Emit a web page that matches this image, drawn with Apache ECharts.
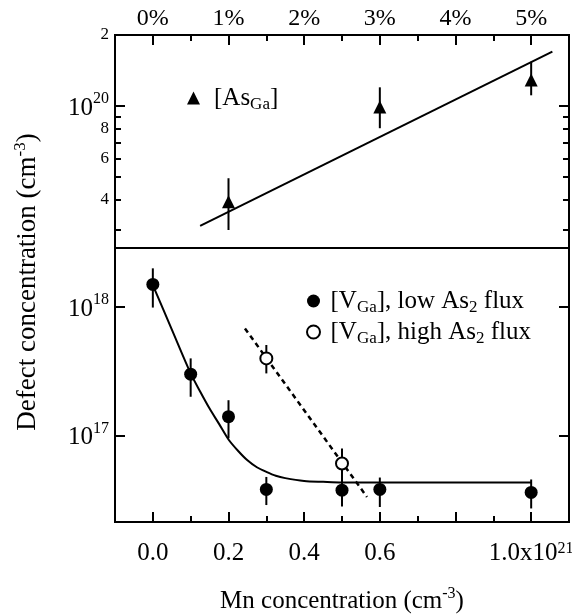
<!DOCTYPE html>
<html>
<head>
<meta charset="utf-8">
<script src="https://cdn.jsdelivr.net/npm/echarts@6/dist/echarts.min.js"></script>
<style>
html,body{margin:0;padding:0;background:#fff;}
#chart{width:572px;height:614px;}
</style>
</head>
<body>
<div id="chart"></div>
<script>
// ---------- data (x in units of 1e21 cm^-3) ----------
// Top panel: [As_Ga]
const asX = [0.2, 0.6, 1.0];
const asVal = [3.93e19, 9.9e19, 1.29e20];
const asLo = [2.98e19, 8.05e19, 1.11e20];
const asHi = [4.94e19, 1.2e20, 1.54e20];
const asFitX = [0.125, 1.056];
const asFitY = [3.1e19, 1.7e20];

// Bottom panel: [V_Ga], low As2 flux
const lowX = [0.0, 0.1, 0.2, 0.3, 0.5, 0.6, 1.0];
const lowVal = [1.5e18, 3.0e17, 1.4e17, 3.8e16, 3.75e16, 3.8e16, 3.6e16];
const lowLo = [9.9e17, 2.0e17, 9.5e16, 2.87e16, 2.8e16, 2.77e16, 2.7e16];
const lowHi = [2.0e18, 3.98e17, 1.88e17, 4.75e16, 4.7e16, 4.7e16, 4.54e16];
const lowFitX = [0.0, 0.05, 0.1, 0.125, 0.15, 0.175, 0.2, 0.225, 0.25, 0.275, 0.3, 0.325, 0.35, 0.4, 0.45, 0.5, 0.6, 1.0];
const lowFitY = [1.48e18, 6.7e17, 3.04e17, 2.2e17, 1.62e17, 1.23e17, 9.3e16, 7.6e16, 6.4e16, 5.65e16, 5.2e16, 4.85e16, 4.65e16, 4.42e16, 4.35e16, 4.3e16, 4.3e16, 4.3e16];

// Bottom panel: [V_Ga], high As2 flux
const highX = [0.3, 0.5];
const highVal = [3.98e17, 6.05e16];
const highLo = [3.04e17, 4.6e16];
const highHi = [5.06e17, 7.9e16];
const highFitX = [0.2435, 0.566];
const highFitY = [6.8e17, 3.32e16];

// axes
const xRange = [-0.1, 1.1];
const topYRange = [2.5e19, 2e20];
const botYRange = [2.15e16, 2.88e18];
const xMajor = [0.0, 0.2, 0.4, 0.6, 0.8, 1.0];
const xMinor = [0.1, 0.3, 0.5, 0.7, 0.9];
const topXLabels = ['0%', '1%', '2%', '3%', '4%', '5%'];
const botXLabelVals = [0.0, 0.2, 0.4, 0.6, 1.0];
const botXLabels = ['0.0', '0.2', '0.4', '0.6', '1.0x10{sup|21}'];
const topYMinor = [3e19, 4e19, 5e19, 6e19, 7e19, 8e19, 9e19];
const topYMajor = [1e20];
const topYLabelVals = [4e19, 6e19, 8e19, 1e20, 2e20];
const topYLabels = ['{sm|4}', '{sm|6}', '{sm|8}', '{b|10}{s|20}', '{sm|2}'];
const botYMajor = [1e17, 1e18];
const botYLabels = ['{b|10}{s|17}', '{b|10}{s|18}'];

// ---------- helpers ----------
const L = Math.log10;
const FONT = 'Liberation Serif';
const pairs = (xs, ys) => xs.map((x, i) => [x, L(ys[i])]);
const errs = (xs, lo, hi) => xs.map((x, i) => [x, L(lo[i]), L(hi[i])]);
const near = (a, b) => Math.abs(a - b) < 1e-6;

const richNum = {
  b: {fontFamily: FONT, fontSize: 25, color: '#000', lineHeight: 30, verticalAlign: 'bottom'},
  s: {fontFamily: FONT, fontSize: 16, color: '#000', lineHeight: 16, verticalAlign: 'top'},
  sm: {fontFamily: FONT, fontSize: 17, color: '#000'},
  sup: {fontFamily: FONT, fontSize: 16, color: '#000', lineHeight: 16, verticalAlign: 'top'}
};

function errRender(params, api) {
  const x = api.value(0);
  const p1 = api.coord([x, api.value(1)]);
  const p2 = api.coord([x, api.value(2)]);
  return {type: 'line', shape: {x1: p1[0], y1: p1[1], x2: p2[0], y2: p2[1]},
          style: {stroke: '#000', lineWidth: 2}};
}

const gridL = 115, gridR = 3;

function xAx(grid, pos, ticks, len, labelCfg, extra) {
  return Object.assign({
    type: 'value', gridIndex: grid, position: pos, min: xRange[0], max: xRange[1],
    axisLine: {show: false, onZero: false}, splitLine: {show: false},
    axisTick: {show: true, inside: true, length: len, customValues: ticks, lineStyle: {color: '#000', width: 2}},
    axisLabel: labelCfg || {show: false}
  }, extra || {});
}
function xLabels(vals, texts, size, margin) {
  return {
    show: true, customValues: vals, margin: margin, fontFamily: FONT, fontSize: size, color: '#000',
    hideOverlap: false,
    formatter: v => { const i = vals.findIndex(t => near(t, v)); return i >= 0 ? texts[i] : ''; },
    rich: richNum
  };
}
function yAx(grid, pos, range, ticks, len, labelVals, labelTexts) {
  return {
    type: 'value', gridIndex: grid, position: pos, min: L(range[0]), max: L(range[1]),
    axisLine: {show: false, onZero: false}, splitLine: {show: false},
    axisTick: {show: true, inside: true, length: len, customValues: ticks.map(L), lineStyle: {color: '#000', width: 2}},
    axisLabel: labelVals ? {
      show: true, customValues: labelVals.map(L), margin: 6, hideOverlap: false,
      formatter: v => { const i = labelVals.findIndex(t => near(L(t), v)); return i >= 0 ? labelTexts[i] : ''; },
      rich: richNum
    } : {show: false}
  };
}

const subStyle = {fontFamily: FONT, fontSize: 17, color: '#000', lineHeight: 17, verticalAlign: 'bottom'};

const option = {
  backgroundColor: '#fff',
  animation: false,
  grid: [
    {left: gridL, right: gridR, top: 35, height: 213, show: true, borderColor: '#000', borderWidth: 2,
      backgroundColor: 'transparent', containLabel: false, outerBoundsMode: 'none'},
    {left: gridL, right: gridR, top: 248, height: 274, show: true, borderColor: '#000', borderWidth: 2,
      backgroundColor: 'transparent', containLabel: false, outerBoundsMode: 'none'}
  ],
  xAxis: [
    xAx(0, 'top', xMajor, 10, xLabels(xMajor, topXLabels, 24, 4)),
    xAx(0, 'top', xMinor, 6),
    xAx(1, 'bottom', xMajor, 10, xLabels(botXLabelVals, botXLabels, 25, 19), {
      name: 'Mn concentration (cm{sup|-3})', nameLocation: 'middle', nameGap: 64, nameMoveOverlap: false,
      nameTextStyle: {fontFamily: FONT, fontSize: 25, color: '#000', lineHeight: 30,
        rich: {sup: {fontFamily: FONT, fontSize: 16, color: '#000', lineHeight: 16, verticalAlign: 'top'}}}
    }),
    xAx(1, 'bottom', xMinor, 6)
  ],
  yAxis: [
    yAx(0, 'left', topYRange, topYMajor, 10, topYLabelVals, topYLabels),
    yAx(0, 'left', topYRange, topYMinor, 6),
    yAx(0, 'right', topYRange, topYMajor, 10),
    yAx(0, 'right', topYRange, topYMinor, 6),
    yAx(1, 'left', [botYRange[0] * 0.985, botYRange[1]], botYMajor, 10, botYMajor, botYLabels),
    yAx(1, 'right', [botYRange[0] * 0.985, botYRange[1]], botYMajor, 10)
  ],
  legend: [
    {
      data: ['[As{sub|Ga}]'], left: 187, top: 83, orient: 'vertical', padding: 0,
      itemWidth: 13, itemHeight: 13, selectedMode: false,
      textStyle: {fontFamily: FONT, fontSize: 25, color: '#000', lineHeight: 30, padding: [0, 0, 0, 9],
        rich: {sub: subStyle}}
    },
    {
      data: ['[V{sub|Ga}], low As{sub|2} flux', '[V{sub|Ga}], high As{sub|2} flux'], left: 306, top: 286, orient: 'vertical', padding: 0,
      itemWidth: 24, itemHeight: 13, itemGap: 1, selectedMode: false,
      textStyle: {fontFamily: FONT, fontSize: 25, color: '#000', lineHeight: 30,
        rich: {sub: subStyle}}
    }
  ],
  graphic: [{
    type: 'text', x: 28, y: 282, rotation: Math.PI / 2,
    style: {text: 'Defect concentration (cm{sup|-3})', fontFamily: FONT, fontSize: 27, fill: '#000',
      align: 'center', verticalAlign: 'middle', lineHeight: 32,
      rich: {sup: {fontFamily: FONT, fontSize: 17, fill: '#000', lineHeight: 17, verticalAlign: 'top'}}}
  }],
  series: [
    // top panel
    {type: 'line', xAxisIndex: 0, yAxisIndex: 0, data: pairs(asFitX, asFitY), showSymbol: false, silent: true,
      lineStyle: {color: '#000', width: 2}, z: 2},
    {type: 'custom', xAxisIndex: 0, yAxisIndex: 0, data: errs(asX, asLo, asHi), renderItem: errRender, z: 3, silent: true},
    {name: '[As{sub|Ga}]', type: 'scatter', xAxisIndex: 0, yAxisIndex: 0, data: pairs(asX, asVal),
      symbol: 'triangle', symbolSize: 13, itemStyle: {color: '#000', opacity: 1}, z: 4},
    // bottom panel
    {type: 'line', xAxisIndex: 2, yAxisIndex: 4, data: pairs(lowFitX, lowFitY), showSymbol: false,
      smooth: 0.3, silent: true,
      lineStyle: {color: '#000', width: 2}, z: 2},
    {type: 'line', xAxisIndex: 2, yAxisIndex: 4, data: pairs(highFitX, highFitY), showSymbol: false, silent: true,
      lineStyle: {color: '#000', width: 2.5, type: [5, 4]}, z: 2},
    {type: 'custom', xAxisIndex: 2, yAxisIndex: 4, data: errs(highX, highLo, highHi), renderItem: errRender, z: 3, silent: true},
    {type: 'custom', xAxisIndex: 2, yAxisIndex: 4, data: errs(lowX, lowLo, lowHi), renderItem: errRender, z: 3, silent: true},
    {name: '[V{sub|Ga}], low As{sub|2} flux', type: 'scatter', xAxisIndex: 2, yAxisIndex: 4, data: pairs(lowX, lowVal),
      symbol: 'circle', symbolSize: 13, itemStyle: {color: '#000', opacity: 1}, z: 5},
    {name: '[V{sub|Ga}], high As{sub|2} flux', type: 'scatter', xAxisIndex: 2, yAxisIndex: 4, data: pairs(highX, highVal),
      symbol: 'circle', symbolSize: 12, itemStyle: {color: '#fff', borderColor: '#000', borderWidth: 2, opacity: 1}, z: 4}
  ]
};

const chart = echarts.init(document.getElementById('chart'), null, {renderer: 'canvas'});
chart.setOption(option);
</script>
</body>
</html>
